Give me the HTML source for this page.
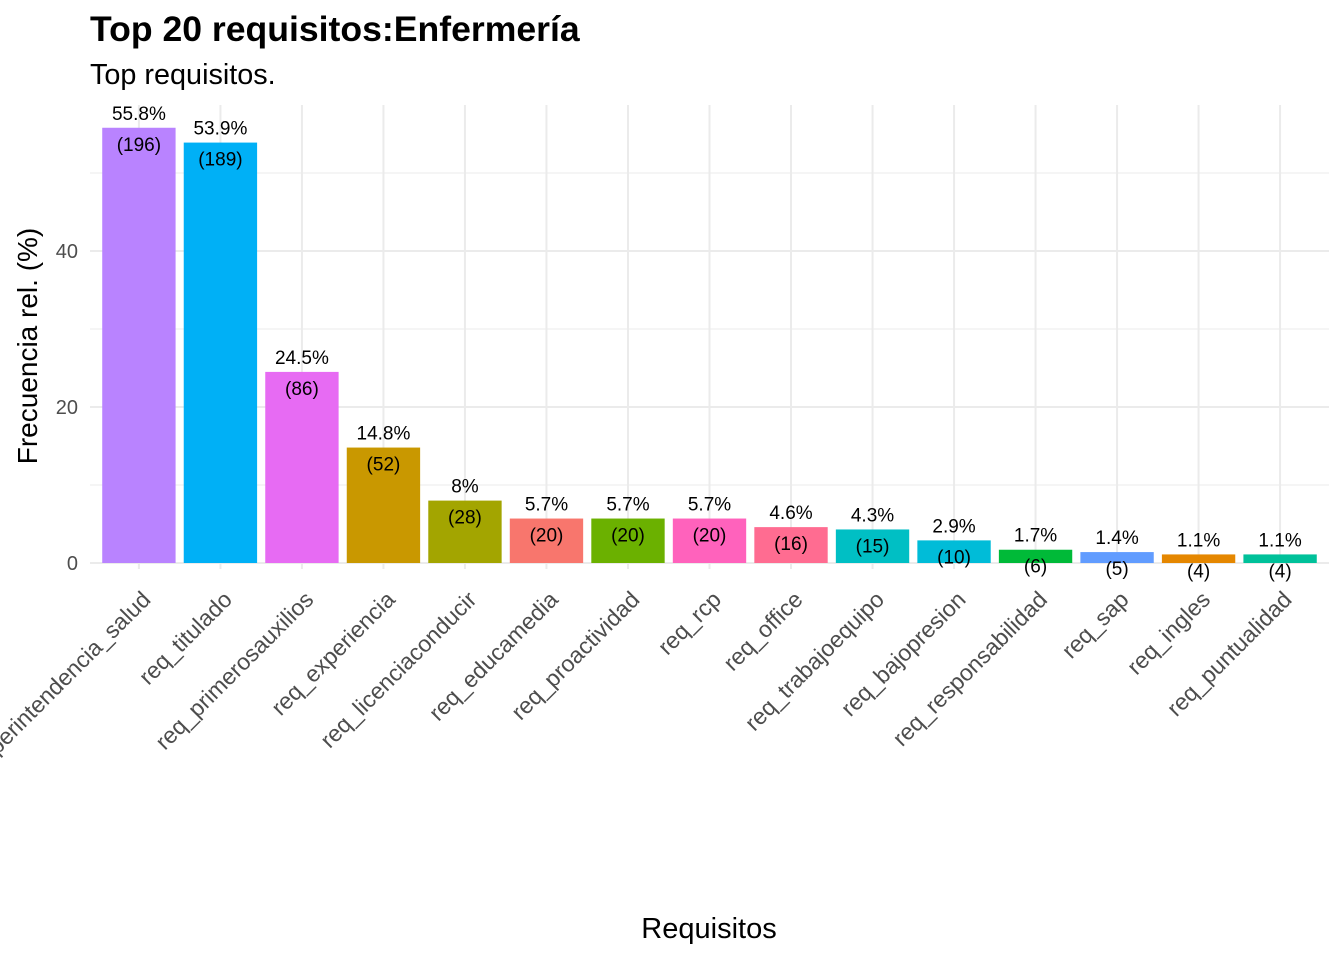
<!DOCTYPE html>
<html><head><meta charset="utf-8"><style>
body{margin:0;background:#fff;font-family:"Liberation Sans",sans-serif}
</style></head><body>
<svg id="c" width="1344" height="960" xmlns="http://www.w3.org/2000/svg" font-family="Liberation Sans, sans-serif">
<text x="90" y="41" font-size="35.6" font-weight="bold">Top 20 requisitos:Enfermería</text>
<text x="90" y="84" font-size="28.8">Top requisitos.</text>
<text x="709" y="938" font-size="29" text-anchor="middle">Requisitos</text>
<text transform="translate(37,346) rotate(-90)" font-size="28" text-anchor="middle">Frecuencia rel. (%)</text>
<g id="grid"></g><g id="bars"></g><g id="labels"></g>
</svg>
<script>
const categories=["req_superintendencia_salud","req_titulado","req_primerosauxilios","req_experiencia","req_licenciaconducir","req_educamedia","req_proactividad","req_rcp","req_office","req_trabajoequipo","req_bajopresion","req_responsabilidad","req_sap","req_ingles","req_puntualidad"];
const percents=[55.8,53.9,24.5,14.8,8,5.7,5.7,5.7,4.6,4.3,2.9,1.7,1.4,1.1,1.1];
const counts=[196,189,86,52,28,20,20,20,16,15,10,6,5,4,4];
const colors=["#B983FF","#00B0F6","#E76BF3","#C99800","#A3A500","#F8766D","#6BB100","#FF62BC","#FF6C91","#00BFC4","#00BCD8","#00BA38","#619CFF","#E58700","#00C19A"];
const yTicks=[0,20,40];
const ns="http://www.w3.org/2000/svg";
const L=90,R=1329,T=105,Y0=563,PX=7.8,step=(R-L)/(categories.length+0.2);
const y=v=>Y0-v*PX, x=i=>L+step*(0.6+i);
function mk(tag,a,p,txt){const e=document.createElementNS(ns,tag);for(const k in a)e.setAttribute(k,a[k]);if(txt!==undefined)e.textContent=txt;document.getElementById(p).appendChild(e);return e;}
for(let v=0;v<=50;v+=10){
 const g=mk("line",{x1:L,x2:R,y1:y(v),y2:y(v),stroke:"#ebebeb","stroke-width":v%20==0?2:1},"grid");
 
 
}
categories.forEach((c,i)=>{
 const g=mk("line",{x1:x(i),x2:x(i),y1:T,y2:Y0+6,stroke:"#ebebeb","stroke-width":2},"grid");
 
 
});
yTicks.forEach(v=>{
 const t=mk("text",{x:78,y:y(v)+7,"font-size":20,fill:"#4d4d4d","text-anchor":"end"},"labels",v);
 
 
});
const bw=step*0.9;
categories.forEach((c,i)=>{
 const b=mk("rect",{x:x(i)-bw/2,y:y(percents[i]),width:bw,height:Y0-y(percents[i]),fill:colors[i]},"bars");
 
 
 const p=mk("text",{x:x(i),y:y(percents[i])-8,"font-size":19,"text-anchor":"middle"},"labels",percents[i]+"%");
 
 
 const n=mk("text",{x:x(i),y:y(percents[i])+23,"font-size":19,"text-anchor":"middle"},"labels","("+counts[i]+")");
 
 
 const xl=mk("text",{transform:`translate(${x(i)+13},${Y0+38}) rotate(-45)`,"font-size":23,fill:"#4d4d4d","text-anchor":"end"},"labels",c);
 
 
});
</script>
</body></html>
